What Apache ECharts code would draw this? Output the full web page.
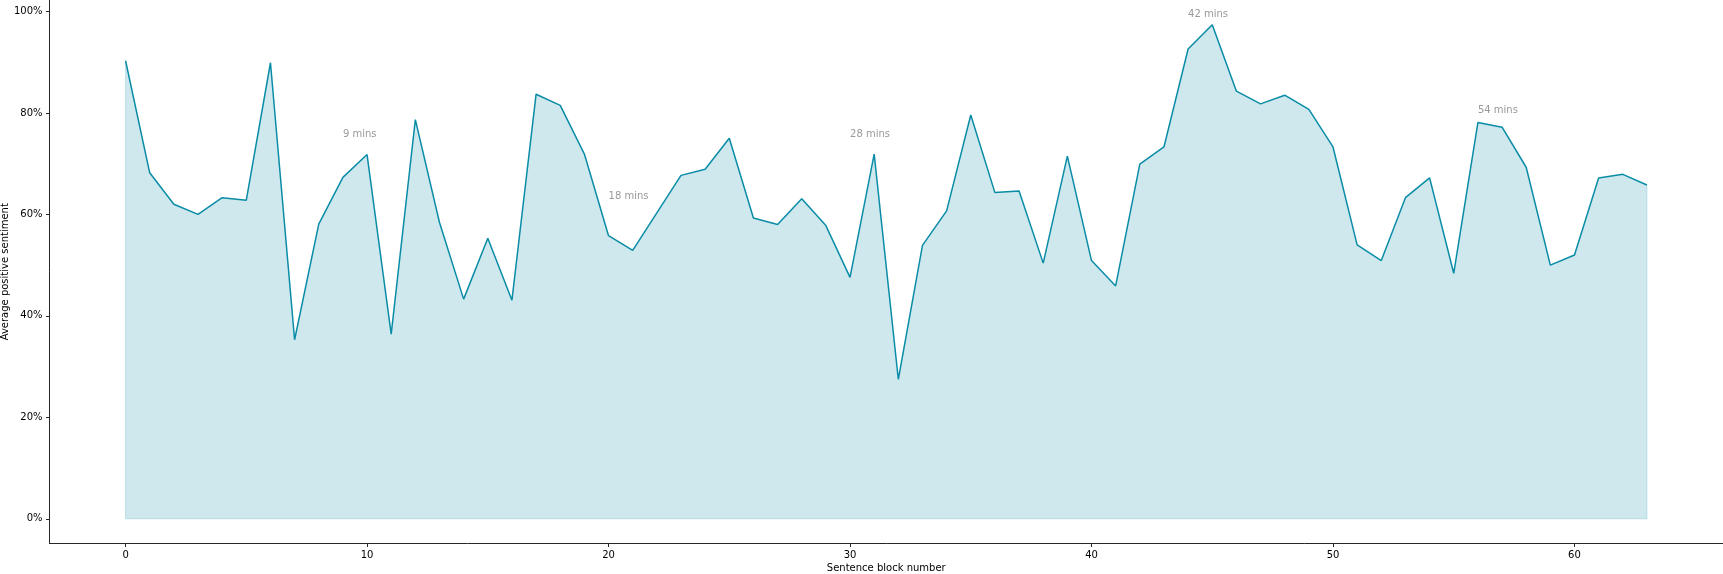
<!DOCTYPE html>
<html>
<head>
<meta charset="utf-8">
<script src="https://cdn.jsdelivr.net/npm/echarts@6/dist/echarts.min.js"></script>
<style>
  html, body { margin: 0; padding: 0; background: #fff; }
  #chart { width: 1723px; height: 574px; }
</style>
</head>
<body>
<div id="chart"></div>
<script>
// ---- data ----
const blockNumbers = [0,1,2,3,4,5,6,7,8,9,10,11,12,13,14,15,16,17,18,19,20,21,22,23,24,25,26,27,28,29,30,31,32,33,34,35,36,37,38,39,40,41,42,43,44,45,46,47,48,49,50,51,52,53,54,55,56,57,58,59,60,61,62,63];
const sentiment = [0.903,0.682,0.620,0.600,0.633,0.628,0.899,0.353,0.581,0.673,0.718,0.364,0.787,0.584,0.433,0.553,0.431,0.837,0.815,0.719,0.558,0.529,0.603,0.677,0.689,0.750,0.593,0.580,0.631,0.578,0.476,0.719,0.275,0.539,0.607,0.796,0.643,0.646,0.504,0.715,0.509,0.459,0.699,0.733,0.926,0.974,0.843,0.818,0.835,0.807,0.733,0.540,0.509,0.633,0.672,0.484,0.781,0.772,0.693,0.500,0.520,0.672,0.679,0.658];
const annotationX = [9, 20, 30, 44, 56];
const annotationY = [0.757, 0.635, 0.757, 0.994, 0.805];
const annotationText = ['9 mins', '18 mins', '28 mins', '42 mins', '54 mins'];
const xTickValues = [0, 10, 20, 30, 40, 50, 60];
const yTickValues = [0, 0.2, 0.4, 0.6, 0.8, 1.0];
const yTickLabels = ['0%', '20%', '40%', '60%', '80%', '100%'];

// ---- build ----
const lineColor = '#0a8ca6';
const fillColor = 'rgba(10,140,166,0.2)';
const font = 'DejaVu Sans';

const lineData = blockNumbers.map((b, i) => [b, sentiment[i]]);
const last = blockNumbers.length - 1;
const edgeData = [
  [blockNumbers[0], sentiment[0]], [blockNumbers[0], 0],
  [blockNumbers[last], 0], [blockNumbers[last], sentiment[last]]
];
const annData = annotationX.map((x, i) => ({ value: [x, annotationY[i]], name: annotationText[i] }));

const chart = echarts.init(document.getElementById('chart'), null, { renderer: 'canvas' });
chart.setOption({
  animation: false,
  backgroundColor: '#ffffff',
  grid: { left: 49.5, right: 0, top: 0, bottom: 30.5, containLabel: false, outerBoundsMode: 'none' },
  xAxis: {
    type: 'value',
    min: -3.15, max: 66.15,
    name: 'Sentence block number',
    nameLocation: 'middle',
    nameGap: 20,
    nameMoveOverlap: false,
    nameTextStyle: { fontFamily: font, fontSize: 10, color: '#000' },
    axisLine: { show: true, onZero: false, lineStyle: { color: '#262626', width: 1 } },
    axisTick: { show: true, length: 3.5, customValues: xTickValues, lineStyle: { color: '#262626' } },
    axisLabel: { customValues: xTickValues, margin: 7, fontFamily: font, fontSize: 10, color: '#000' },
    splitLine: { show: false }
  },
  yAxis: {
    type: 'value',
    min: -0.0487, max: 1.0227,
    name: 'Average positive sentiment',
    nameLocation: 'middle',
    nameGap: 39,
    nameMoveOverlap: false,
    nameTextStyle: { fontFamily: font, fontSize: 10, color: '#000' },
    axisLine: { show: true, onZero: false, lineStyle: { color: '#262626', width: 1 } },
    axisTick: { show: true, length: 3.5, customValues: yTickValues, lineStyle: { color: '#262626' } },
    axisLabel: {
      customValues: yTickValues, margin: 7, fontFamily: font, fontSize: 10, color: '#000',
      formatter: v => { const i = yTickValues.findIndex(t => Math.abs(t - v) < 1e-6); return i >= 0 ? yTickLabels[i] : ''; }
    },
    splitLine: { show: false }
  },
  series: [
    {
      type: 'line',
      data: lineData,
      showSymbol: false,
      symbol: 'none',
      lineStyle: { color: lineColor, width: 1.5 },
      areaStyle: { color: fillColor, opacity: 1, origin: 'auto' },
      z: 3
    },
    {
      type: 'line',
      data: edgeData,
      showSymbol: false,
      symbol: 'none',
      lineStyle: { color: fillColor, width: 1 },
      z: 2,
      silent: true
    },
    {
      type: 'scatter',
      data: annData,
      symbolSize: 0,
      label: {
        show: true,
        position: 'right',
        distance: 0,
        formatter: p => p.name,
        fontFamily: font,
        fontSize: 10,
        color: '#808080',
        verticalAlign: 'middle'
      },
      z: 5,
      silent: true
    }
  ]
});
</script>
</body>
</html>
